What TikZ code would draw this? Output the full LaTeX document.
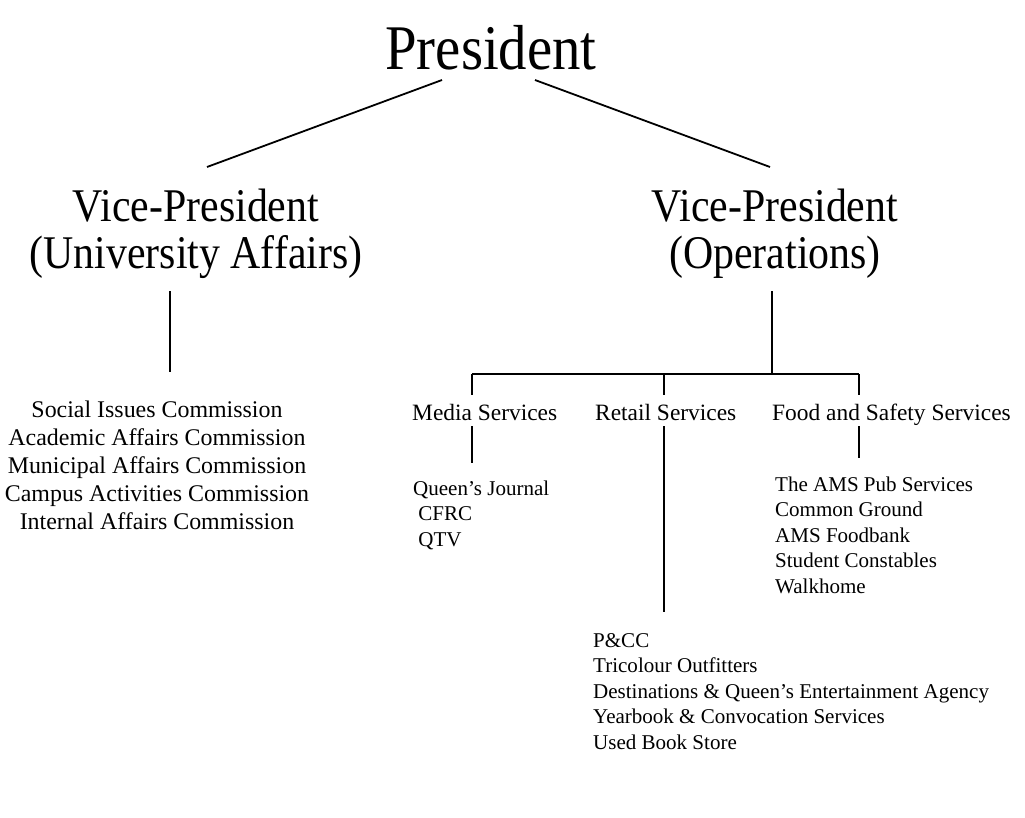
\documentclass[tikz,border=0pt]{standalone}
\usepackage{graphicx}
\usepackage{fontspec}
\setmainfont{Liberation Serif}

% the big titles are drawn a bit taller than the font
\newcommand{\tallbox}[1]{\scalebox{1}[1.12]{#1}}
\newcommand{\twolines}[2]{\tallbox{\begin{tabular}[b]{@{}c@{}}#1\\#2\end{tabular}}}

\tikzset{
  head/.style = {font=\fontsize{57}{60}\selectfont, inner sep=0pt, anchor=base},
  vp/.style = {font=\fontsize{42}{41}\selectfont, inner sep=0pt, anchor=base},
  unit/.style = {font=\fontsize{23.5}{28}\selectfont, inner sep=0pt, anchor=base west},
  commlist/.style = {font=\fontsize{24}{28}\selectfont, align=center, inner sep=0pt, anchor=base},
  itemlist/.style = {font=\fontsize{21.1}{25.5}\selectfont, align=left, inner sep=0pt, anchor=base west},
  link/.style = {line width=1.8bp},
}

\begin{document}
\begin{tikzpicture}[x=1bp, y=1bp]
  \useasboundingbox (0,0) rectangle (1025,-818);

  \node[head] (pres) at (491,-70) {\tallbox{President}};
  \node[vp] (vpua) at (196,-268) {\twolines{Vice-President}{(University Affairs)}};
  \node[vp] (vpops) at (775,-268) {\twolines{Vice-President}{(Operations)}};

  % base of a list node = its last line
  \node[commlist] (comm) at (157,-529) {Social Issues Commission\\Academic Affairs Commission\\Municipal Affairs Commission\\Campus Activities Commission\\Internal Affairs Commission};

  \node[unit] (media) at (412,-420) {Media Services};
  \node[unit] (retail) at (595,-420) {Retail Services};
  \node[unit] (food) at (772,-420) {Food and Safety Services};

  \node[itemlist] (medialist) at (413,-546) {Queen's Journal\\\ CFRC\\\ QTV};
  \node[itemlist] (foodlist) at (775,-593) {The AMS Pub Services\\Common Ground\\AMS Foodbank\\Student Constables\\Walkhome};
  \node[itemlist] (retaillist) at (593,-749) {P\&CC\\Tricolour Outfitters\\Destinations \& Queen's Entertainment Agency\\Yearbook \& Convocation Services\\Used Book Store};

  % president to vice-presidents
  \coordinate (pres-l) at (442,-80);
  \coordinate (pres-r) at (535,-80);
  \coordinate (vpua-t) at (207,-167);
  \coordinate (vpops-t) at (770,-167);
  \draw[link] (pres-l) -- (vpua-t);
  \draw[link] (pres-r) -- (vpops-t);

  % university affairs
  \coordinate (vpua-b) at (170,-291);
  \coordinate (comm-t) at (170,-372);
  \draw[link] (vpua-b) -- (comm-t);

  % operations
  \coordinate (vpops-b) at (772,-291);
  \coordinate (bar) at (772,-374);
  \coordinate (bar-l) at (472,-374);
  \coordinate (bar-m) at (664,-374);
  \coordinate (bar-r) at (859,-374);
  \draw[link] (vpops-b) -- (bar);
  \draw[link] (bar-l) -- (bar-r);
  \draw[link] (bar-l) -- (472,-395);
  \draw[link] (bar-m) -- (664,-395);
  \draw[link] (bar-r) -- (859,-395);

  \coordinate (media-b) at (472,-426);
  \coordinate (retail-b) at (664,-426);
  \coordinate (food-b) at (859,-426);
  \draw[link] (media-b) -- (472,-463);
  \draw[link] (retail-b) -- (664,-612);
  \draw[link] (food-b) -- (859,-458);
\end{tikzpicture}
\end{document}
